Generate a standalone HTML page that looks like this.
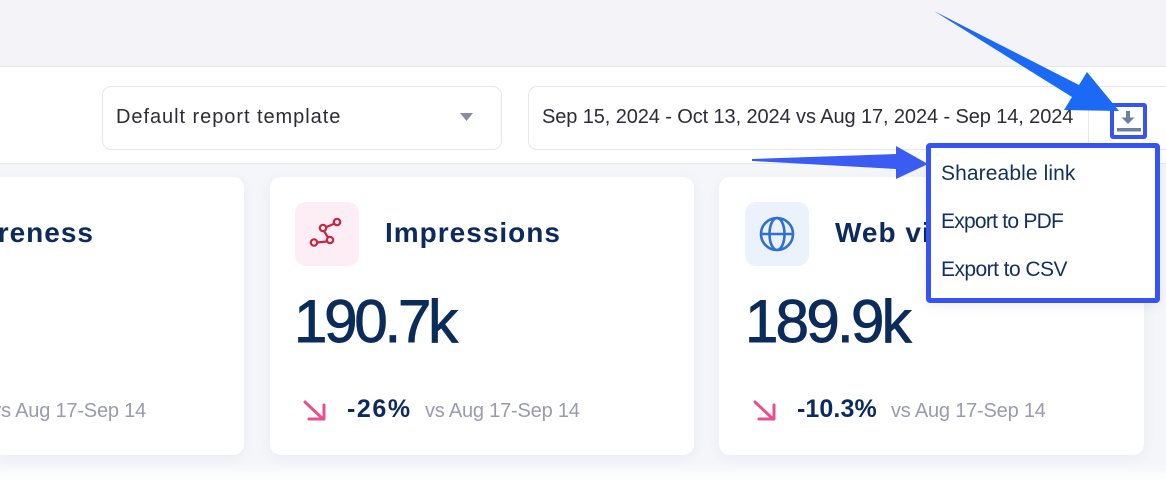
<!DOCTYPE html>
<html><head><meta charset="utf-8">
<style>
*{margin:0;padding:0;box-sizing:border-box}
html,body{width:1166px;height:498px;overflow:hidden;background:#fff;font-family:"Liberation Sans",sans-serif}
#wrap{position:relative;width:1166px;height:498px;overflow:hidden}
.abs{position:absolute}
#top{left:0;top:0;width:1166px;height:67px;background:#f3f3f8;border-bottom:1px solid #e7e7ee}
#bar{left:0;top:67px;width:1166px;height:97px;background:#fff;border-bottom:1px solid #e7e7ee}
#content{left:0;top:164px;width:1166px;height:318px;background:linear-gradient(#f5f6fa 0,#f5f6fa 300px,#fff 318px)}
.box{border:1px solid #e6e6ee;border-radius:9px;background:#fff}
.t{position:absolute;white-space:nowrap;line-height:1}
.card{position:absolute;top:177px;height:278px;background:#fff;border-radius:11px;box-shadow:0 3px 14px rgba(30,40,80,0.05)}
.title{font-size:28px;font-weight:bold;color:#0c2b5c;letter-spacing:1px}
.num{font-size:60px;color:#0b2c5b;-webkit-text-stroke:0.9px #0b2c5b}
.pct{font-size:25px;font-weight:bold;color:#0c2b5c}
.vs{font-size:20px;color:#9a9ab0;letter-spacing:-0.2px}
.menu{font-size:21px;color:#12305e}
</style></head><body>
<div id="wrap">
<div id="top" class="abs"></div>
<div id="bar" class="abs"></div>
<div id="content" class="abs"></div>

<!-- dropdown -->
<div class="abs box" style="left:102px;top:86px;width:400px;height:64px"></div>
<div class="t" style="left:116px;top:107px;font-size:20px;color:#2c2c36;letter-spacing:0.95px">Default report template</div>
<svg class="abs" style="left:458px;top:111px" width="18" height="12"><polygon points="2,2 15,2 8.5,10" fill="#8a8aa2"/></svg>

<!-- date box -->
<div class="abs" style="left:528px;top:86px;width:638px;height:64px;border:1px solid #e6e6ee;border-right:none;border-radius:9px 0 0 9px;background:#fff"></div>
<div class="abs" style="left:1088px;top:87px;width:1px;height:62px;background:#e6e6ee"></div>
<div class="t" style="left:542px;top:107px;font-size:20px;color:#2c2c36;letter-spacing:-0.1px">Sep 15, 2024 - Oct 13, 2024 vs Aug 17, 2024 - Sep 14, 2024</div>

<!-- download button -->
<div class="abs" style="left:1110px;top:103px;width:37px;height:36px;border:4px solid #3654f5;border-radius:3px;background:#fff"></div>
<svg class="abs" style="left:1110px;top:103px" width="37" height="36">
<rect x="16" y="8" width="4" height="8" fill="#6b7fa3"/>
<polygon points="11.5,14.5 24.5,14.5 18,21" fill="#6b7fa3"/>
<rect x="7" y="25" width="24" height="3.5" fill="#6b7fa3"/>
</svg>

<!-- card 1 -->
<div class="card" style="left:0;width:244px;border-radius:0 11px 11px 0;overflow:hidden">
<div class="t title" style="right:150px;top:42px">Brand awareness</div>
<div class="t vs" style="right:98px;top:224px">vs Aug 17-Sep 14</div>
</div>

<!-- card 2 -->
<div class="card" style="left:270px;width:424px"></div>
<div class="abs" style="left:295px;top:202px;width:64px;height:64px;border-radius:11px;background:#fdedf5"></div>
<svg class="abs" style="left:295px;top:202px" width="64" height="64">
<g fill="none" stroke="#c92340" stroke-width="2.2">
<line x1="39.5" y1="21.5" x2="30.5" y2="25.5"/>
<line x1="29" y1="29" x2="33" y2="35.5"/>
<line x1="31.5" y1="39.5" x2="22" y2="40.5"/>
<circle cx="42" cy="20" r="3.2"/>
<circle cx="28" cy="26" r="3.2"/>
<circle cx="35" cy="38" r="3.2"/>
<circle cx="19" cy="40.5" r="3.2"/>
</g></svg>
<div class="t title" style="left:385px;top:219px">Impressions</div>
<div class="t num" style="left:294px;top:292px;letter-spacing:-3.2px">190.7k</div>
<svg class="abs" style="left:300px;top:397px" width="30" height="28">
<g fill="none" stroke="#e94f8e" stroke-width="3" stroke-linecap="round" stroke-linejoin="round">
<line x1="5" y1="5" x2="23" y2="22"/>
<polyline points="9,22 24,22 24,8"/>
</g></svg>
<div class="t pct" style="left:347px;top:397px;letter-spacing:1.6px">-26%</div>
<div class="t vs" style="left:425px;top:401px">vs Aug 17-Sep 14</div>

<!-- card 3 -->
<div class="card" style="left:719px;width:425px"></div>
<div class="abs" style="left:745px;top:202px;width:64px;height:64px;border-radius:11px;background:#ecf2fc"></div>
<svg class="abs" style="left:745px;top:202px" width="64" height="64">
<g fill="none" stroke="#2d6fd6" stroke-width="2.6">
<circle cx="32" cy="32" r="16"/>
<ellipse cx="32" cy="32" rx="7.5" ry="16"/>
<line x1="16" y1="32" x2="48" y2="32"/>
</g></svg>
<div class="t title" style="left:835px;top:219px">Web visits</div>
<div class="t num" style="left:745px;top:292px;letter-spacing:-2.7px">189.9k</div>
<svg class="abs" style="left:750px;top:397px" width="30" height="28">
<g fill="none" stroke="#e94f8e" stroke-width="3" stroke-linecap="round" stroke-linejoin="round">
<line x1="5" y1="5" x2="23" y2="22"/>
<polyline points="9,22 24,22 24,8"/>
</g></svg>
<div class="t pct" style="left:797px;top:397px;letter-spacing:0.1px">-10.3%</div>
<div class="t vs" style="left:891px;top:401px">vs Aug 17-Sep 14</div>

<!-- menu -->
<div class="abs" style="left:926px;top:143px;width:234px;height:160px;border:5px solid #3654f5;border-radius:4px;background:#fff;box-shadow:0 4px 12px rgba(0,0,0,0.06)"></div>
<div class="t menu" style="left:941px;top:163px;letter-spacing:0.1px">Shareable link</div>
<div class="t menu" style="left:941px;top:211px;letter-spacing:-0.75px">Export to PDF</div>
<div class="t menu" style="left:941px;top:259px;letter-spacing:-0.55px">Export to CSV</div>

<!-- arrows -->
<svg class="abs" style="left:0;top:0" width="1166" height="498">
<polygon points="934,11 1079,85 1087,72 1119,111 1064,110 1072,97" fill="#1b69f4"/>
<polygon points="752,159 896,154 896,146 928,164 896,179 896,169 752,161" fill="#3a5cf3"/>
</svg>
</div>
</body></html>
